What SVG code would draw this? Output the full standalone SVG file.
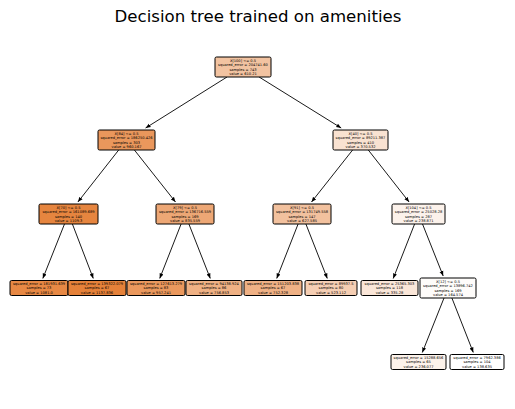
<svg xmlns="http://www.w3.org/2000/svg" width="515" height="409" viewBox="0 0 515 409">
<style>
.bg{fill:#ffffff}
.box{stroke:#000;stroke-width:1;}
.t{font-family:"DejaVu Sans",sans-serif;font-size:3.6px;text-anchor:middle;fill:#000}
.title{font-family:"DejaVu Sans",sans-serif;font-size:16.6px;text-anchor:middle;fill:#000}
.edge{stroke:#000;stroke-width:0.9;fill:none;marker-end:url(#ah)}
</style>
<defs>
<marker id="ah" viewBox="0 0 10 10" refX="10" refY="5" markerWidth="5" markerHeight="5" orient="auto" markerUnits="userSpaceOnUse">
<path d="M0,1 L10,5 L0,9 Z" fill="#000"/>
</marker>
</defs>
<rect class="bg" x="0" y="0" width="515" height="409"/>
<text class="title" x="258" y="22">Decision tree trained on amenities</text>
<g id="connectors">
<line class="edge" x1="227" y1="77" x2="145.6" y2="128"/>
<line class="edge" x1="259.1" y1="77" x2="341.2" y2="128"/>
<line class="edge" x1="118.7" y1="150" x2="77.9" y2="202"/>
<line class="edge" x1="134.4" y1="150" x2="175.5" y2="202"/>
<line class="edge" x1="352.6" y1="150" x2="311.5" y2="202"/>
<line class="edge" x1="368.3" y1="150" x2="409.1" y2="202"/>
<line class="edge" x1="64.5" y1="224" x2="42.8" y2="278.5"/>
<line class="edge" x1="72.4" y1="224" x2="93.3" y2="278.5"/>
<line class="edge" x1="181.1" y1="224" x2="159.7" y2="278.5"/>
<line class="edge" x1="188.9" y1="224" x2="210.3" y2="278.5"/>
<line class="edge" x1="298.1" y1="224" x2="276.7" y2="278.5"/>
<line class="edge" x1="305.9" y1="224" x2="327.3" y2="278.5"/>
<line class="edge" x1="414.6" y1="224" x2="393.2" y2="278.5"/>
<line class="edge" x1="422.5" y1="224" x2="443.2" y2="276"/>
<line class="edge" x1="444" y1="298" x2="422.3" y2="352.5"/>
<line class="edge" x1="451.9" y1="298" x2="473.3" y2="352.5"/>
</g>
<g id="n0">
<rect class="box" x="215" y="57" width="56" height="20" rx="1.5" fill="#f2c3a1"/>
<text class="t" x="243" y="61.9">X[100] &lt;= 0.5</text>
<text class="t" x="243" y="66.2">squared_error = 204741.60</text>
<text class="t" x="243" y="70.5">samples = 743</text>
<text class="t" x="243" y="74.8">value = 610.21</text>
</g>
<g id="n1">
<rect class="box" x="98" y="130" width="57" height="20" rx="1.5" fill="#ea975c"/>
<text class="t" x="126.5" y="134.9">X[84] &lt;= 0.5</text>
<text class="t" x="126.5" y="139.2">squared_error = 186250.426</text>
<text class="t" x="126.5" y="143.5">samples = 303</text>
<text class="t" x="126.5" y="147.8">value = 960.167</text>
</g>
<g id="n2">
<rect class="box" x="333" y="130" width="55" height="20" rx="1.5" fill="#f9e2d1"/>
<text class="t" x="360.5" y="134.9">X[40] &lt;= 0.5</text>
<text class="t" x="360.5" y="139.2">squared_error = 89211.387</text>
<text class="t" x="360.5" y="143.5">samples = 410</text>
<text class="t" x="360.5" y="147.8">value = 370.532</text>
</g>
<g id="n3">
<rect class="box" x="39" y="204" width="59" height="20" rx="1.5" fill="#e6853f"/>
<text class="t" x="68.5" y="208.9">X[70] &lt;= 0.5</text>
<text class="t" x="68.5" y="213.2">squared_error = 161089.689</text>
<text class="t" x="68.5" y="217.5">samples = 140</text>
<text class="t" x="68.5" y="221.8">value = 1109.3</text>
</g>
<g id="n4">
<rect class="box" x="156" y="204" width="58" height="20" rx="1.5" fill="#eda775"/>
<text class="t" x="185" y="208.9">X[79] &lt;= 0.5</text>
<text class="t" x="185" y="213.2">squared_error = 136716.559</text>
<text class="t" x="185" y="217.5">samples = 169</text>
<text class="t" x="185" y="221.8">value = 835.559</text>
</g>
<g id="n5">
<rect class="box" x="273" y="204" width="58" height="20" rx="1.5" fill="#f2c19e"/>
<text class="t" x="302" y="208.9">X[91] &lt;= 0.5</text>
<text class="t" x="302" y="213.2">squared_error = 131749.558</text>
<text class="t" x="302" y="217.5">samples = 147</text>
<text class="t" x="302" y="221.8">value = 627.585</text>
</g>
<g id="n6">
<rect class="box" x="392" y="204" width="53" height="20" rx="1.5" fill="#fcf2eb"/>
<text class="t" x="418.5" y="208.9">X[104] &lt;= 0.5</text>
<text class="t" x="418.5" y="213.2">squared_error = 25028.28</text>
<text class="t" x="418.5" y="217.5">samples = 287</text>
<text class="t" x="418.5" y="221.8">value = 238.871</text>
</g>
<g id="n7">
<rect class="box" x="10" y="280.5" width="58" height="15" rx="1.5" fill="#e78844"/>
<text class="t" x="39" y="285">squared_error = 181931.639</text>
<text class="t" x="39" y="289.3">samples = 73</text>
<text class="t" x="39" y="293.6">value = 1081.0</text>
</g>
<g id="n8">
<rect class="box" x="68" y="280.5" width="58" height="15" rx="1.5" fill="#e58139"/>
<text class="t" x="97" y="285">squared_error = 139322.079</text>
<text class="t" x="97" y="289.3">samples = 67</text>
<text class="t" x="97" y="293.6">value = 1137.836</text>
</g>
<g id="n9">
<rect class="box" x="127" y="280.5" width="58" height="15" rx="1.5" fill="#ea985d"/>
<text class="t" x="156" y="285">squared_error = 127613.279</text>
<text class="t" x="156" y="289.3">samples = 83</text>
<text class="t" x="156" y="293.6">value = 957.241</text>
</g>
<g id="n10">
<rect class="box" x="186" y="280.5" width="56" height="15" rx="1.5" fill="#efb184"/>
<text class="t" x="214" y="285">squared_error = 94138.924</text>
<text class="t" x="214" y="289.3">samples = 86</text>
<text class="t" x="214" y="293.6">value = 756.853</text>
</g>
<g id="n11">
<rect class="box" x="244" y="280.5" width="58" height="15" rx="1.5" fill="#efb185"/>
<text class="t" x="273" y="285">squared_error = 151203.838</text>
<text class="t" x="273" y="289.3">samples = 67</text>
<text class="t" x="273" y="293.6">value = 752.328</text>
</g>
<g id="n12">
<rect class="box" x="305" y="280.5" width="52" height="15" rx="1.5" fill="#f5ceb3"/>
<text class="t" x="331" y="285">squared_error = 89937.5</text>
<text class="t" x="331" y="289.3">samples = 80</text>
<text class="t" x="331" y="293.6">value = 523.112</text>
</g>
<g id="n13">
<rect class="box" x="361" y="280.5" width="57" height="15" rx="1.5" fill="#fae6d8"/>
<text class="t" x="389.5" y="285">squared_error = 25365.303</text>
<text class="t" x="389.5" y="289.3">samples = 118</text>
<text class="t" x="389.5" y="293.6">value = 335.28</text>
</g>
<g id="n14">
<rect class="box" x="420" y="278" width="56" height="20" rx="1.5" fill="#fefcfa"/>
<text class="t" x="448" y="282.9">X[12] &lt;= 0.5</text>
<text class="t" x="448" y="287.2">squared_error = 13896.742</text>
<text class="t" x="448" y="291.5">samples = 169</text>
<text class="t" x="448" y="295.8">value = 164.574</text>
</g>
<g id="n15">
<rect class="box" x="391" y="354.5" width="55" height="15" rx="1.5" fill="#fcf2ea"/>
<text class="t" x="418.5" y="359">squared_error = 15288.656</text>
<text class="t" x="418.5" y="363.3">samples = 65</text>
<text class="t" x="418.5" y="367.6">value = 236.077</text>
</g>
<g id="n16">
<rect class="box" x="450" y="354.5" width="54" height="15" rx="1.5" fill="#ffffff"/>
<text class="t" x="477" y="359">squared_error = 7962.386</text>
<text class="t" x="477" y="363.3">samples = 104</text>
<text class="t" x="477" y="367.6">value = 138.635</text>
</g>
</svg>
